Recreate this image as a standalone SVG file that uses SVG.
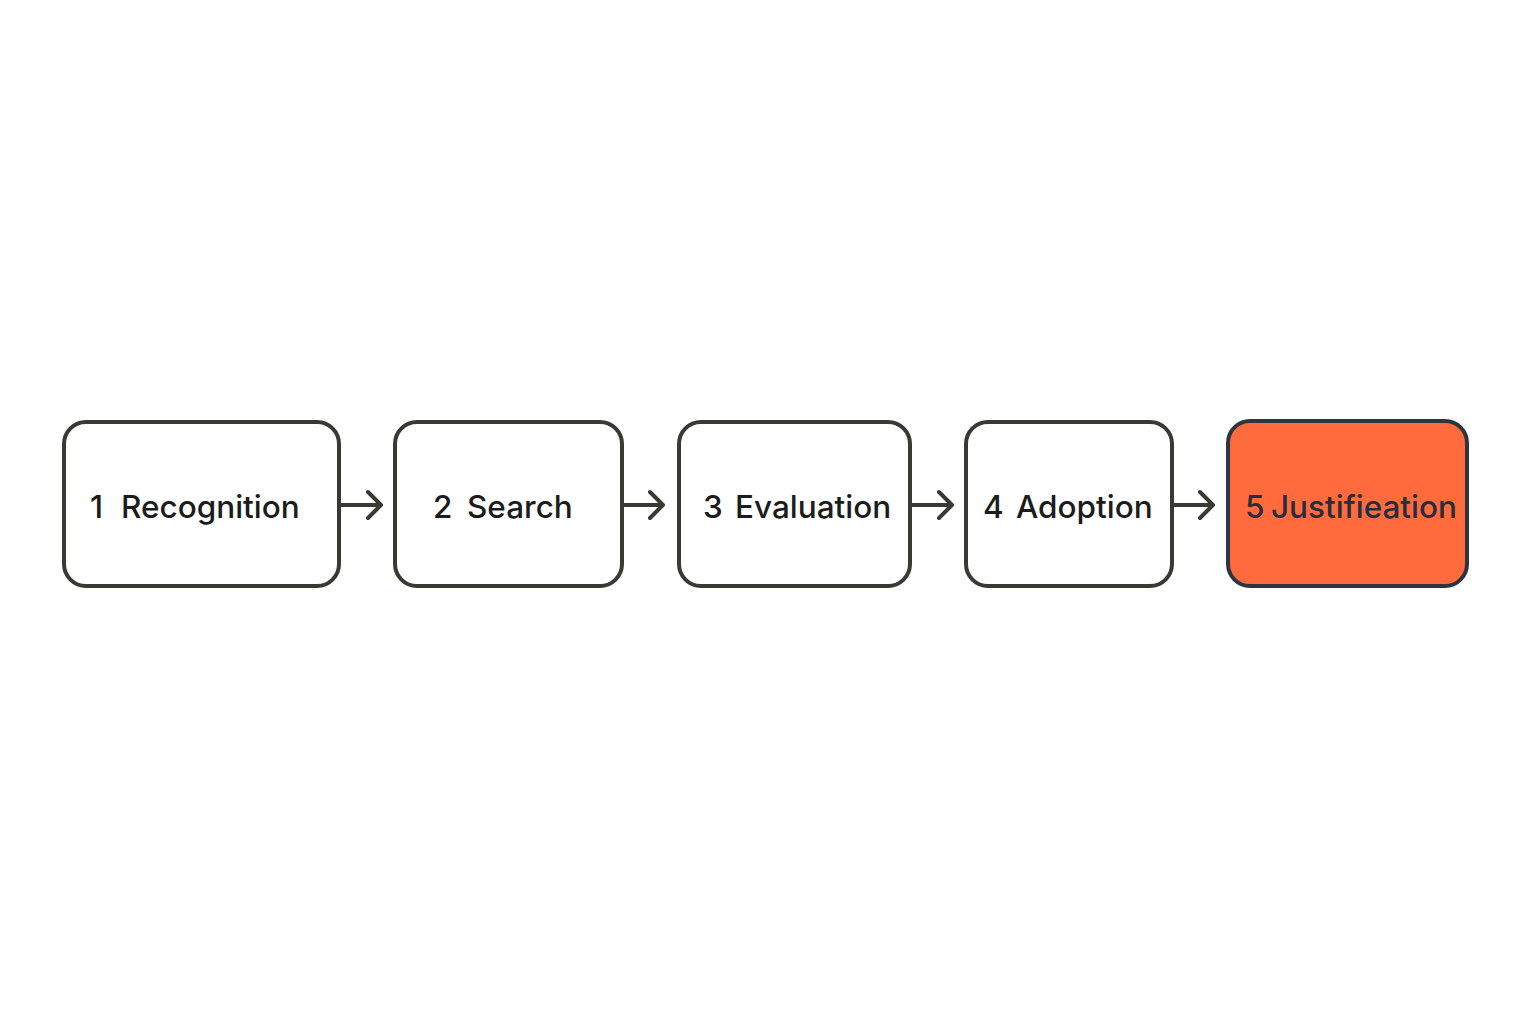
<svg xmlns="http://www.w3.org/2000/svg" width="1536" height="1024" viewBox="0 0 1536 1024">
<style>
.box{fill:#ffffff;stroke:#3a3a34;stroke-width:4}
.hl{fill:#ff6b3d;stroke:#2e3541;stroke-width:4}
.lbl{font-family:Inter,"Open Sans","Liberation Sans",sans-serif;font-size:31.5px;font-weight:500;fill:#1c1c1c}
.lbl5{fill:#262d3d}
.conn{stroke:#3a3a34;stroke-width:4;fill:none;stroke-linecap:round;stroke-linejoin:round}
</style>
<rect width="1536" height="1024" fill="#ffffff"/>
<g id="connectors">
<path class="conn" d="M341 505H380M368 492L381 505L368 518"/>
<path class="conn" d="M624 505H662M650 492L663 505L650 518"/>
<path class="conn" d="M912 505H951M939 492L952 505L939 518"/>
<path class="conn" d="M1174 505H1212M1200 492L1213 505L1200 518"/>
</g>
<g id="node1">
<rect class="box" x="64" y="422" width="275" height="164" rx="22"/>
<text class="lbl" y="518"><tspan x="90">1</tspan><tspan x="121">Recognition</tspan></text>
</g>
<g id="node2">
<rect class="box" x="395" y="422" width="227" height="164" rx="22"/>
<text class="lbl" y="518"><tspan x="433">2</tspan><tspan x="467">Search</tspan></text>
</g>
<g id="node3">
<rect class="box" x="679" y="422" width="231" height="164" rx="22"/>
<text class="lbl" y="518"><tspan x="703">3</tspan><tspan x="735">Evaluation</tspan></text>
</g>
<g id="node4">
<rect class="box" x="966" y="422" width="206" height="164" rx="22"/>
<text class="lbl" y="518"><tspan x="983">4</tspan><tspan x="1016">Adoption</tspan></text>
</g>
<g id="node5">
<rect class="hl" x="1228" y="421" width="239" height="165" rx="22"/>
<text class="lbl lbl5" y="518"><tspan x="1245">5</tspan><tspan x="1271">Justifieation</tspan></text>
</g>
</svg>
